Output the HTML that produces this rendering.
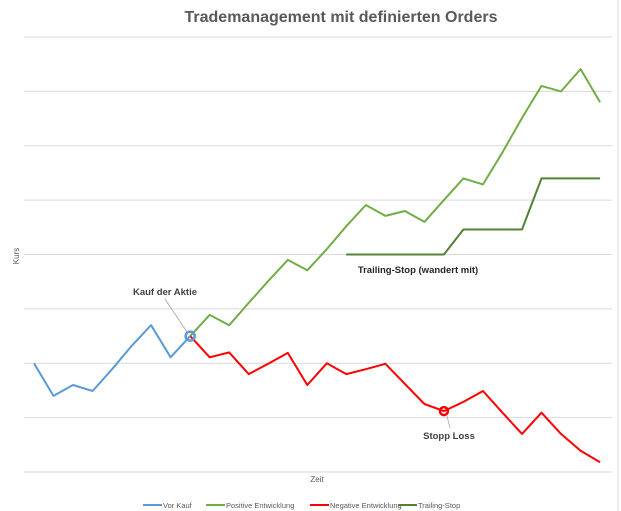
<!DOCTYPE html>
<html><head><meta charset="utf-8"><style>
body{margin:0;background:#fff;font-family:"Liberation Sans",sans-serif}
svg{display:block}
</style></head><body>
<svg id="chart" width="621" height="511" viewBox="0 0 621 511" xmlns="http://www.w3.org/2000/svg">
<rect width="621" height="511" fill="#fff"/>
<line x1="618" y1="0" x2="618" y2="511" stroke="#d9d9d9"/>
<text x="341" y="22" text-anchor="middle" font-size="16" font-weight="bold" fill="#595959">Trademanagement mit definierten Orders</text>
<g id="grid"></g>
<g id="series"></g>
<text transform="translate(19,256) rotate(-90)" text-anchor="middle" font-size="8" fill="#595959">Kurs</text>
<text x="317" y="482" text-anchor="middle" font-size="8" fill="#595959">Zeit</text>
<line x1="165" y1="299" x2="187" y2="332" stroke="#a6a6a6" stroke-width="0.8"/>
<text x="165" y="295" text-anchor="middle" font-size="9.5" font-weight="bold" fill="#404040">Kauf der Aktie</text>
<text x="418" y="273" text-anchor="middle" font-size="9.5" font-weight="bold" fill="#262626">Trailing-Stop (wandert mit)</text>
<line x1="447" y1="416" x2="450" y2="428" stroke="#a6a6a6" stroke-width="0.8"/>
<text x="449" y="439" text-anchor="middle" font-size="9.5" font-weight="bold" fill="#404040">Stopp Loss</text>
<g id="legend"></g>
</svg>
<script>
const vorKauf=[2.00,1.40,1.60,1.49,1.89,2.32,2.70,2.11,2.50];
const positiv=[2.50,2.89,2.70,3.11,3.51,3.90,3.71,4.10,4.52,4.91,4.71,4.80,4.60,5.00,5.40,5.29,5.88,6.51,7.10,7.00,7.41,6.80];
const negativ=[2.50,2.11,2.20,1.80,1.99,2.19,1.60,2.00,1.80,1.89,1.99,1.62,1.25,1.12,1.29,1.49,1.09,0.70,1.09,0.70,0.39,0.18];
const trailing=[4.00,4.00,4.00,4.00,4.00,4.00,4.46,4.46,4.46,4.46,5.40,5.40,5.40,5.40];
const gridValues=[0,1,2,3,4,5,6,7,8];
const buyIndex=8, trailStart=16, stopIndex=21;
const legendNames=["Vor Kauf","Positive Entwicklung","Negative Entwicklung","Trailing-Stop"];
const NS="http://www.w3.org/2000/svg";
const X=i=>34+i*19.52;
const Y=v=>472-v*54.375;
function mk(t,a,p){const e=document.createElementNS(NS,t);for(const k in a)e.setAttribute(k,a[k]);p.appendChild(e);return e;}
const grid=document.getElementById('grid');
gridValues.forEach(v=>{
 const l=mk('line',{x1:24,x2:612,y1:Y(v),y2:Y(v),stroke:'#d9d9d9','stroke-width':1},grid);
 
 
});
const ser=document.getElementById('series');
function line(vals,start,color,name,w){
 const pts=vals.map((v,i)=>X(start+i).toFixed(1)+','+Y(v).toFixed(1)).join(' ');
 const p=mk('polyline',{points:pts,fill:'none',stroke:color,'stroke-width':w||2,'stroke-linejoin':'round'},ser);
 
 
}
line(positiv,buyIndex,'#70ad47','positive-line');
line(negativ,buyIndex,'#ff0000','negative-line');
line(vorKauf,0,'#5b9bd5','vor-kauf-line');
line(trailing,trailStart,'#548235','trailing-stop-line');
const c1=mk('circle',{cx:X(buyIndex),cy:Y(vorKauf[buyIndex]),r:4.5,fill:'none',stroke:'#5b9bd5','stroke-width':2.5},ser);


const c2=mk('circle',{cx:X(stopIndex),cy:Y(negativ[stopIndex-buyIndex]),r:4,fill:'none',stroke:'#ff0000','stroke-width':2.5},ser);


const leg=document.getElementById('legend');
const lx=[143,206,310,398], colors=['#5b9bd5','#70ad47','#ff0000','#548235'];
legendNames.forEach((n,i)=>{
 const g=mk('g',{},leg);
 
 
 mk('line',{x1:lx[i],x2:lx[i]+19,y1:505,y2:505,stroke:colors[i],'stroke-width':2},g);
 const t=mk('text',{x:lx[i]+20,y:508,'font-size':7.5,fill:'#595959'},g);
 t.textContent=n;
});
</script>
</body></html>
